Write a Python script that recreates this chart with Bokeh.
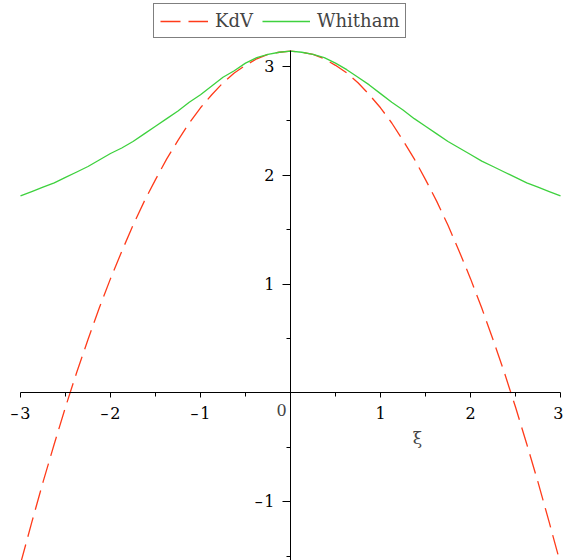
from bokeh.plotting import figure
from bokeh.models import (Range1d, FixedTicker, Legend, LegendItem, Label)
from bokeh.embed import file_html
from bokeh.resources import INLINE

# Sampled profiles of the two solitary-wave models
xi = [-3.0, -2.875, -2.75, -2.625, -2.5, -2.375, -2.25, -2.125, -2.0, -1.875,
      -1.75, -1.625, -1.5, -1.375, -1.25, -1.125, -1.0, -0.875, -0.75, -0.625,
      -0.5, -0.375, -0.25, -0.125, 0.0, 0.125, 0.25, 0.375, 0.5, 0.625, 0.75,
      0.875, 1.0, 1.125, 1.25, 1.375, 1.5, 1.625, 1.75, 1.875, 2.0, 2.125, 2.25,
      2.375, 2.5, 2.625, 2.75, 2.875, 3.0]
kdv = [-1.57, -1.19, -0.82, -0.47, -0.13, 0.19, 0.49, 0.78, 1.05, 1.30,
       1.54, 1.76, 1.96, 2.15, 2.32, 2.48, 2.62, 2.74, 2.85, 2.94,
       3.01, 3.07, 3.11, 3.13, 3.14, 3.13, 3.11, 3.07, 3.01, 2.94, 2.85,
       2.74, 2.62, 2.48, 2.32, 2.15, 1.96, 1.76, 1.54, 1.30, 1.05, 0.78, 0.49,
       0.19, -0.13, -0.47, -0.82, -1.19, -1.57]
whitham = [1.81, 1.85, 1.89, 1.93, 1.98, 2.03, 2.08, 2.14, 2.20, 2.25,
           2.31, 2.38, 2.45, 2.52, 2.59, 2.67, 2.74, 2.82, 2.90, 2.96,
           3.03, 3.08, 3.11, 3.13, 3.14, 3.13, 3.11, 3.08, 3.03, 2.97, 2.90,
           2.83, 2.75, 2.67, 2.60, 2.52, 2.45, 2.38, 2.31, 2.25, 2.19, 2.13, 2.08,
           2.03, 1.98, 1.93, 1.89, 1.85, 1.81]

x_ticks = [-3, -2, -1, 0, 1, 2, 3]
x_minor = [-2.5, -1.5, -0.5, 0.5, 1.5, 2.5]
y_ticks = [-1, 0, 1, 2, 3]
y_minor = [-1.5, -0.5, 0.5, 1.5, 2.5]

FONT = "DejaVu Serif"
RED = "#ff3b1a"
GREEN = "#3ed13e"

# The frame fills the canvas; the axis lines are bounded to the data extent
p = figure(width=563, height=560, output_backend="svg", toolbar_location=None,
           x_range=Range1d(-3.2222, 3.0333), y_range=Range1d(-1.54, 3.6056),
           min_border=0)
p.outline_line_color = None
p.xgrid.visible = False
p.ygrid.visible = False
p.background_fill_color = "white"

r_kdv = p.line(xi, kdv, line_color=RED, line_width=1.3, line_dash="20 8")
r_wh = p.line(xi, whitham, line_color=GREEN, line_width=1.3)

def signed(v):
    return ("\u2013\u200a" + str(abs(v))) if v < 0 else str(v)

# Axes cross at the origin
xa = p.xaxis[0]
xa.fixed_location = 0
xa.bounds = (-3, 3)
xa.ticker = FixedTicker(ticks=x_ticks, minor_ticks=x_minor)
xa.major_label_overrides = {t: ("" if t == 0 else signed(t)) for t in x_ticks}
xa.major_tick_out = 5
xa.major_tick_in = 0
xa.minor_tick_out = 4
xa.minor_tick_in = 0
xa.major_label_standoff = 6

ya = p.yaxis[0]
ya.fixed_location = 0
ya.bounds = (-1.54, 3.146)
ya.ticker = FixedTicker(ticks=y_ticks, minor_ticks=y_minor)
ya.major_label_overrides = {t: ("" if t == 0 else signed(t)) for t in y_ticks}
ya.major_tick_out = 8
ya.major_tick_in = 0
ya.minor_tick_out = 4
ya.minor_tick_in = 0
ya.major_label_standoff = 8

for ax in (xa, ya):
    ax.axis_line_color = "black"
    ax.axis_line_width = 1
    ax.major_tick_line_color = "black"
    ax.minor_tick_line_color = "black"
    ax.major_label_text_font = FONT
    ax.major_label_text_font_size = "16px"
    ax.major_label_text_color = "black"

# Origin label and axis name
p.add_layout(Label(x=0, y=0, x_offset=-9, y_offset=-17, text="0",
                   text_font=FONT, text_font_size="16px", text_align="center",
                   text_baseline="middle"))
p.add_layout(Label(x=0, y=0, x_offset=127, y_offset=-45, text="ξ",
                   text_font=FONT, text_font_size="17px", text_align="center",
                   text_baseline="middle"))

legend = Legend(items=[LegendItem(label="KdV", renderers=[r_kdv]),
                       LegendItem(label="Whitham", renderers=[r_wh])],
                orientation="horizontal", location=(153, 522))
legend.border_line_color = "black"
legend.border_line_width = 1
legend.glyph_width = 48
legend.glyph_height = 14
legend.label_height = 14
legend.label_standoff = 7
legend.spacing = 9
legend.padding = 6
legend.margin = 0
legend.label_text_font = FONT
legend.label_text_font_size = "18px"
legend.background_fill_alpha = 1
p.add_layout(legend)

open("out.html", "w").write(file_html(p, INLINE))
